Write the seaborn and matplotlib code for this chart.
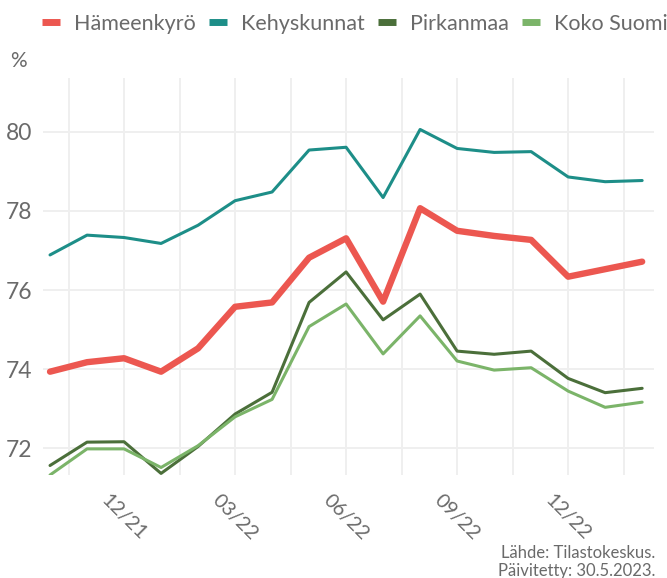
import numpy as np
import pandas as pd
import matplotlib
matplotlib.use("Agg")
import matplotlib.pyplot as plt
import matplotlib.transforms as mtransforms
from matplotlib.lines import Line2D
import seaborn as sns

# monthly values, 10/21 .. 02/23
months = ["10/21", "11/21", "12/21", "01/22", "02/22", "03/22", "04/22", "05/22",
          "06/22", "07/22", "08/22", "09/22", "10/22", "11/22", "12/22", "01/23", "02/23"]

hameenkyro = [73.94, 74.18, 74.28, 73.94, 74.53, 75.58, 75.69, 76.82, 77.31,
              75.71, 78.07, 77.50, 77.37, 77.27, 76.34, 76.53, 76.72]
kehyskunnat = [76.89, 77.39, 77.33, 77.18, 77.64, 78.26, 78.48, 79.54, 79.61,
               78.34, 80.06, 79.58, 79.48, 79.50, 78.86, 78.74, 78.77]
pirkanmaa = [71.57, 72.16, 72.17, 71.37, 72.05, 72.87, 73.42, 75.69, 76.46,
             75.25, 75.90, 74.46, 74.38, 74.46, 73.77, 73.41, 73.52]
koko_suomi = [71.33, 71.99, 71.99, 71.52, 72.07, 72.80, 73.24, 75.08, 75.65,
              74.39, 75.35, 74.21, 73.98, 74.04, 73.45, 73.04, 73.17]

series = ["Hämeenkyrö", "Kehyskunnat", "Pirkanmaa", "Koko Suomi"]
colors = ["#EC5750", "#1D8E88", "#4B6F3A", "#7BB469"]
widths = [4.6, 2.2, 2.2, 2.2]

tick_idx = [2, 5, 8, 11, 14]
y_ticks = [72, 74, 76, 78, 80]

sns.set_theme(style="white")
plt.rcParams['font.family'] = ['Lato', 'DejaVu Sans']
text_col = "#6a6a6a"

df = pd.DataFrame({
    "kk": list(range(len(months))) * 4,
    "arvo": hameenkyro + kehyskunnat + pirkanmaa + koko_suomi,
    "alue": [s for s in series for _ in months],
})

fig = plt.figure(figsize=(6.67, 5.78), dpi=100)
ax = fig.add_axes([43 / 667, 1 - 475 / 578, (654 - 43) / 667, (475 - 78) / 578])

sns.lineplot(data=df, x="kk", y="arvo", hue="alue", size="alue",
             hue_order=series, palette=dict(zip(series, colors)),
             sizes=dict(zip(series, widths)), legend=False, ax=ax)

ax.set_xlim(-0.19, 16.32)
ax.set_ylim(71.33, 81.36)
ax.set_xticks(tick_idx)
ax.set_xticklabels([months[i] for i in tick_idx], rotation=-45, ha="center",
                   fontsize=14.5, color=text_col)
shift = mtransforms.ScaledTranslation(-8 / 100, 0, fig.dpi_scale_trans)
for lab in ax.get_xticklabels():
    lab.set_transform(lab.get_transform() + shift)
ax.set_xticks([i - 1.5 for i in tick_idx] + [tick_idx[-1] + 1.5], minor=True)
ax.set_yticks(y_ticks)
ax.set_yticklabels([str(v) for v in y_ticks], fontsize=16.5, color=text_col)
ax.tick_params(axis="both", which="both", length=0)
ax.tick_params(axis="x", pad=12)
ax.tick_params(axis="y", pad=8)
ax.grid(True, which="major", axis="both", color="#EFEFEF", linewidth=1.4)
ax.grid(True, which="minor", axis="x", color="#EFEFEF", linewidth=1.4)
ax.set_axisbelow(True)
for s in ax.spines.values():
    s.set_visible(False)
ax.set_xlabel("")
ax.set_ylabel("")

handles = [Line2D([0], [0], color=c, lw=5, solid_capstyle="butt") for c in colors]
fig.legend(handles, series, loc="upper center", bbox_to_anchor=(0.532, 1.01), ncol=4,
           frameon=False, handlelength=0.84, handletextpad=0.65,
           columnspacing=0.6, labelcolor=text_col, prop={"size": 15.5})

fig.text(10 / 667, 1 - 61 / 578, "%", fontsize=15, color=text_col, va="center")
fig.text(655 / 667, 1 - 553 / 578, "Lähde: Tilastokeskus.", fontsize=12,
         color=text_col, ha="right", va="center")
fig.text(655 / 667, 1 - 571 / 578, "Päivitetty: 30.5.2023.", fontsize=12,
         color=text_col, ha="right", va="center")

fig.savefig("out.png", dpi=100)
